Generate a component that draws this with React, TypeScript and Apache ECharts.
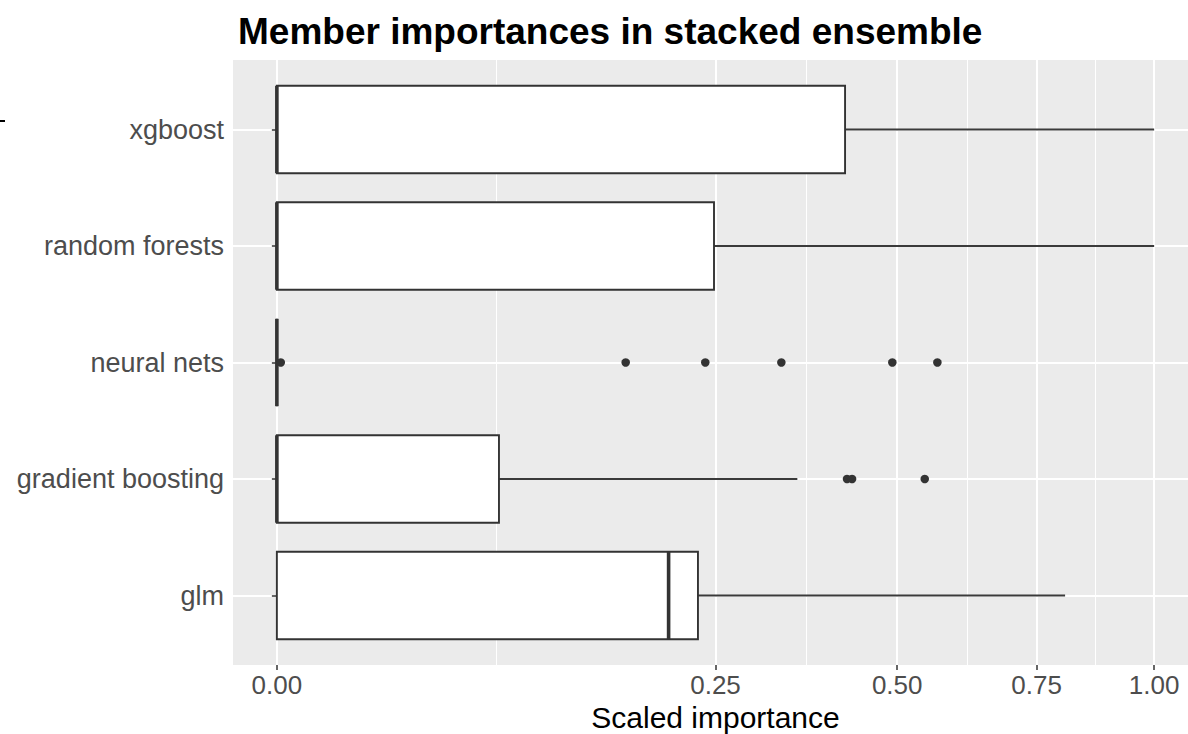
import React, { useEffect, useRef } from "react";
import * as echarts from "echarts";

// ---- data (original, untransformed values) ----
const categories = ["xgboost", "random forests", "neural nets", "gradient boosting", "glm"];
const whiskerLow = [0, 0, 0, 0, 0];
const lowerQuartile = [0, 0, 0, 0, 0];
const medianValue = [0, 0, 0, 0, 0.1994];
const upperQuartile = [0.4195, 0.2483, 0, 0.0641, 0.2304];
const whiskerHigh = [1.0, 1.0, 0, 0.352, 0.8073];

const outlierCategory = [
  "neural nets", "neural nets", "neural nets", "neural nets", "neural nets", "neural nets",
  "gradient boosting", "gradient boosting", "gradient boosting",
];
const outlierValue = [0.00002, 0.1581, 0.2385, 0.3307, 0.4922, 0.5669, 0.4224, 0.4299, 0.5454];

const xTickValues = [0, 0.25, 0.5, 0.75, 1.0];

const FONT = "'Liberation Sans', Arial, Helvetica, sans-serif";

// square-root scale transform (as in the original plot)
const tr = (v: number) => Math.sqrt(v);

export default function App() {
  const ref = useRef<HTMLDivElement>(null);

  useEffect(() => {
    if (!ref.current) return;
    const chart = echarts.init(ref.current, null, { renderer: "svg" });

    const majorT = xTickValues.map(tr);
    const minorT: number[] = [];
    for (let i = 0; i < majorT.length - 1; i++) minorT.push((majorT[i] + majorT[i + 1]) / 2);

    const boxData = categories.map((_, i) => [
      i,
      tr(whiskerLow[i]),
      tr(lowerQuartile[i]),
      tr(medianValue[i]),
      tr(upperQuartile[i]),
      tr(whiskerHigh[i]),
    ]);
    const outlierData = outlierValue.map((v, i) => [tr(v), categories.indexOf(outlierCategory[i])]);

    const panel = { left: 233, top: 60, width: 965, height: 605 };
    const dataGrid = { left: 233, top: 129.5, width: 965, height: 466 };

    const option: any = {
      animation: false,
      backgroundColor: "#ffffff",
      title: {
        text: "Member importances in stacked ensemble",
        left: 233,
        top: 8,
        textStyle: {
          fontFamily: FONT,
          fontSize: 37,
          fontWeight: "bold",
          color: "#000000",
          lineHeight: 37,
        },
      },
      grid: [
        { ...panel, show: true, backgroundColor: "#EBEBEB", borderWidth: 0, containLabel: false },
        { ...dataGrid, show: false, containLabel: false },
      ],
      xAxis: [
        {
          type: "value",
          gridIndex: 0,
          min: -0.05,
          max: 1.05,
          axisLine: { show: false },
          axisTick: {
            show: true,
            customValues: majorT,
            length: 5,
            lineStyle: { color: "#333333", width: 1.5 },
          },
          axisLabel: {
            show: true,
            customValues: majorT,
            formatter: (v: number) => (v * v).toFixed(2),
            fontFamily: FONT,
            fontSize: 26,
            color: "#4D4D4D",
            margin: 7,
          },
          splitLine: { show: true, lineStyle: { color: "#FFFFFF", width: 2 } },
        },
        {
          type: "value",
          gridIndex: 0,
          min: -0.05,
          max: 1.05,
          axisLine: { show: false },
          axisTick: { show: false, customValues: minorT },
          axisLabel: { show: false, customValues: minorT },
          splitLine: { show: true, lineStyle: { color: "#FFFFFF", width: 1 } },
        },
        {
          type: "value",
          gridIndex: 1,
          min: -0.05,
          max: 1.05,
          show: false,
          splitLine: { show: false },
        },
      ],
      yAxis: [
        {
          type: "value",
          gridIndex: 0,
          show: false,
          min: 0,
          max: 1,
          splitLine: { show: false },
        },
        {
          type: "category",
          gridIndex: 1,
          data: categories,
          inverse: true,
          boundaryGap: false,
          axisLine: { show: false },
          axisTick: {
            show: true,
            interval: 0,
            length: 5,
            lineStyle: { color: "#333333", width: 1.5 },
          },
          axisLabel: {
            interval: 0,
            fontFamily: FONT,
            fontSize: 27,
            color: "#4D4D4D",
            margin: 9,
          },
          splitLine: { show: true, interval: 0, lineStyle: { color: "#FFFFFF", width: 2 } },
        },
      ],
      series: [
        {
          type: "custom",
          name: "importance",
          xAxisIndex: 2,
          yAxisIndex: 1,
          encode: { y: 0, x: [1, 2, 3, 4, 5] },
          data: boxData,
          z: 3,
          renderItem: (params: any, api: any) => {
            const c = api.value(0);
            const pMin = api.coord([api.value(1), c]);
            const pQ1 = api.coord([api.value(2), c]);
            const pMed = api.coord([api.value(3), c]);
            const pQ3 = api.coord([api.value(4), c]);
            const pMax = api.coord([api.value(5), c]);
            const step = Math.abs(api.coord([0, 1])[1] - api.coord([0, 0])[1]);
            const half = step * 0.375;
            const y = pMed[1];
            const lineStyle = { stroke: "#3a3a3a", lineWidth: 1.8 };
            return {
              type: "group",
              children: [
                { type: "line", shape: { x1: pMin[0], y1: y, x2: pQ1[0], y2: y }, style: lineStyle },
                { type: "line", shape: { x1: pQ3[0], y1: y, x2: pMax[0], y2: y }, style: lineStyle },
                {
                  type: "rect",
                  shape: { x: pQ1[0], y: y - half, width: pQ3[0] - pQ1[0], height: half * 2 },
                  style: { fill: "#FFFFFF", stroke: "#333333", lineWidth: 1.9 },
                },
                {
                  type: "line",
                  shape: { x1: pMed[0], y1: y - half, x2: pMed[0], y2: y + half },
                  style: { stroke: "#333333", lineWidth: 3.6 },
                },
              ],
            };
          },
        },
        {
          type: "scatter",
          name: "outliers",
          xAxisIndex: 2,
          yAxisIndex: 1,
          data: outlierData,
          symbol: "circle",
          symbolSize: 8.5,
          itemStyle: { color: "#333333", opacity: 1 },
          z: 4,
        },
      ],
      graphic: [
        {
          type: "text",
          x: 715.5,
          y: 717,
          style: {
            text: "Scaled importance",
            fontFamily: FONT,
            fontSize: 30,
            fill: "#000000",
            align: "center",
            verticalAlign: "middle",
          },
        },
        {
          type: "rect",
          shape: { x: 0, y: 120, width: 5, height: 2 },
          style: { fill: "#000000" },
        },
      ],
    };

    chart.setOption(option);
    return () => chart.dispose();
  }, []);

  return (
    <div style={{ position: "absolute", left: 0, top: 0, width: 1188, height: 734, overflow: "hidden" }}>
      <div ref={ref} style={{ width: 1198, height: 734 }} />
    </div>
  );
}
